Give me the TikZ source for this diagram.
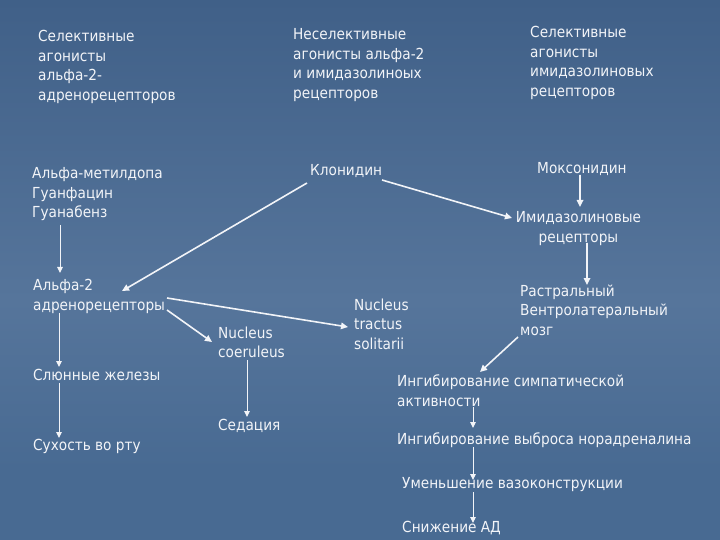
\documentclass[tikz,border=0pt]{standalone}
\usepackage{fontspec}
\setmainfont{DejaVu Sans Condensed}
\usetikzlibrary{arrows.meta,calc}
\definecolor{bgtop}{RGB}{64,96,136}
\definecolor{bgmid}{RGB}{86,117,155}
\definecolor{bgbot}{RGB}{72,106,146}
\definecolor{txt}{RGB}{242,244,248}
\tikzset{
  lbl/.style={anchor=north west, inner sep=0pt, align=left, text=txt,
    font=\fontsize{15.2bp}{19.5bp}\selectfont},
  clbl/.style={lbl, anchor=north, align=center},
  arr/.style={draw=txt, line width=1bp, -{Triangle[length=6bp,width=5.5bp]}},
  tarr/.style={arr, line width=1.6bp, -{Triangle[length=7bp,width=6.5bp]}},
}
\begin{document}
\begin{tikzpicture}[x=1bp,y=-1bp]
\shade[top color=bgtop, bottom color=bgmid] (0,0) rectangle (720,300);
\shade[top color=bgmid, bottom color=bgbot] (0,300) rectangle (720,470);
\fill[bgbot] (0,470) rectangle (720,540);
\useasboundingbox (0,0) rectangle (720,540);

\node[lbl] (sel) at (38,30.5) {Селективные\\агонисты\\альфа-2-\\адренорецепторов};
\node[lbl] (nonsel) at (293,28.5) {Неселективные\\агонисты альфа-2\\и имидазолиноых\\рецепторов};
\node[lbl] (selim) at (530,26.5) {Селективные\\агонисты\\имидазолиновых\\рецепторов};
\node[lbl] (drugs) at (32,167.5) {Альфа-метилдопа\\Гуанфацин\\Гуанабенз};
\node[lbl] (clon) at (310,164.5) {Клонидин};
\node[lbl] (mox) at (537,162.5) {Моксонидин};
\node[clbl] (imid) at (578.5,211.5) {Имидазолиновые\\рецепторы};
\node[lbl] (alpha) at (33,279.5) {Альфа-2\\адренорецепторы};
\node[lbl] (nc) at (218,326.5) {Nucleus\\coeruleus};
\node[lbl] (nts) at (354,298.5) {Nucleus\\tractus\\solitarii};
\node[lbl] (rvlm) at (520,284.5) {Растральный\\Вентролатеральный\\мозг};
\node[lbl] (sal) at (33,369.5) {Слюнные железы};
\node[lbl] (inhs) at (397,374.5) {Ингибирование симпатической\\активности};
\node[lbl] (sed) at (218,419.5) {Седация};
\node[lbl] (dry) at (33,439.5) {Сухость во рту};
\node[lbl] (inhn) at (397,432.5) {Ингибирование выброса норадреналина};
\node[lbl] (vaso) at (402,477.5) {Уменьшение вазоконструкции};
\node[lbl] (bp) at (402,521.5) {Снижение АД};

\draw[arr] ($(drugs.north west)+(28,57.5)$) -- ($(alpha.north west)+(27,-6.5)$);
\draw[tarr] ($(clon.north west)+(-3,18.5)$) -- ($(alpha.north west)+(89,11.5)$);
\draw[tarr] ($(clon.north west)+(72,15.5)$) -- ($(imid.north)+(-66.5,6.5)$);
\draw[tarr] ($(mox.north west)+(43,12.5)$) -- ($(imid.north)+(1.5,-4.5)$);
\draw[tarr] ($(imid.north)+(8.5,31.5)$) -- ($(rvlm.north west)+(67,0.5)$);
\draw[tarr] ($(alpha.north west)+(134,18.5)$) -- ($(nts.north west)+(-6,28.5)$);
\draw[tarr] ($(alpha.north west)+(134,30.5)$) -- ($(nc.north west)+(-6,15.5)$);
\draw[arr] ($(alpha.north west)+(26,33.5)$) -- ($(sal.north west)+(26,-2.5)$);
\draw[arr] ($(sal.north west)+(26,13.5)$) -- ($(dry.north west)+(26,-1.5)$);
\draw[arr] ($(nc.north west)+(29,33.5)$) -- ($(sed.north west)+(29,-2.5)$);
\draw[tarr] ($(rvlm.north west)+(-2,52.5)$) -- ($(inhs.north west)+(83,-2.5)$);
\draw[arr] ($(inhs.north west)+(76,32.5)$) -- ($(inhn.north west)+(76,-4.5)$);
\draw[arr] ($(inhn.north west)+(76,14.5)$) -- ($(vaso.north west)+(71,2.5)$);
\draw[arr] ($(vaso.north west)+(71,14.5)$) -- ($(bp.north west)+(71,1.5)$);
\end{tikzpicture}
\end{document}
